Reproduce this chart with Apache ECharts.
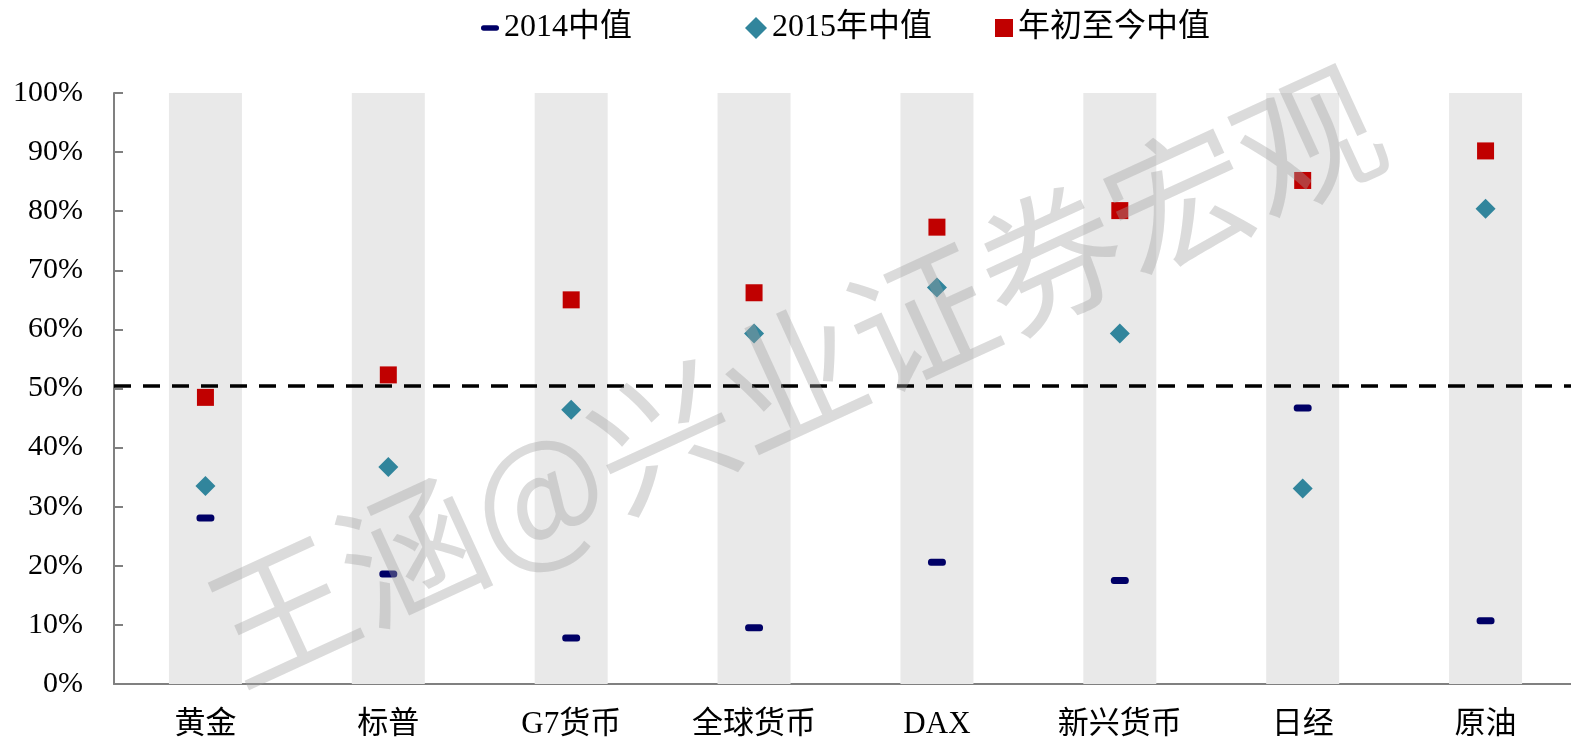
<!DOCTYPE html>
<html>
<head>
<meta charset="utf-8">
<script src="https://cdn.jsdelivr.net/npm/echarts@6/dist/echarts.min.js"></script>
<style>
  html, body { margin: 0; padding: 0; background: #fff; overflow: hidden; }
  #main { width: 1577px; height: 742px; }
</style>
</head>
<body>
<div id="main"></div>
<script>
var categories = ['黄金', '标普', 'G7货币', '全球货币', 'DAX', '新兴货币', '日经', '原油']
var median2014 = [28.1, 18.6, 7.8, 9.5, 20.6, 17.5, 46.7, 10.7]
var median2015 = [33.5, 36.7, 46.4, 59.3, 67.1, 59.3, 33.1, 80.4]
var medianYtd = [48.5, 52.3, 65.0, 66.2, 77.3, 80.1, 85.2, 90.2]
var background = [100, 100, 100, 100, 100, 100, 100, 100]
var refLine = 50.5
var yTicks = { min: 0, max: 100, interval: 10 }

var font = '"Liberation Serif", "Noto Sans CJK SC", serif'
var legendText = { fontSize: 32, color: '#000', fontFamily: font }

function legendItem(name, icon, left, size) {
  return {
    top: 7,
    left: left,
    itemWidth: size,
    itemHeight: size,
    itemGap: 8,
    textStyle: legendText,
    data: [{ name: name, icon: icon }],
  }
}

var chartDom = document.getElementById('main')
var myChart = echarts.init(chartDom)
var option = {
  animation: false,
  textStyle: { fontFamily: font },
  legend: [
    legendItem('2014中值', 'path://M2,6 L16,6 A2,2 0 0 1 16,12 L2,12 A2,2 0 0 1 2,6 Z', 476, 18),
    legendItem('2015年中值', 'diamond', 740, 22),
    legendItem('年初至今中值', 'rect', 990, 18),
  ],
  grid: {
    left: 114,
    right: 0,
    top: 93,
    bottom: 58,
    outerBoundsMode: 'none',
  },
  xAxis: {
    type: 'category',
    data: categories,
    boundaryGap: true,
    axisLine: { lineStyle: { color: '#808080', width: 2 } },
    axisTick: { inside: true, length: 8, lineStyle: { color: '#808080', width: 2 } },
    axisLabel: { fontSize: 31, color: '#000', margin: 25, fontFamily: font },
  },
  yAxis: {
    type: 'value',
    min: yTicks.min,
    max: yTicks.max,
    interval: yTicks.interval,
    splitLine: { show: false },
    axisLine: { show: true, lineStyle: { color: '#808080', width: 2 } },
    axisTick: { show: true, inside: true, length: 9, lineStyle: { color: '#808080', width: 2 } },
    axisLabel: { formatter: '{value}%', fontSize: 30, color: '#000', margin: 31, fontFamily: font },
  },
  series: [
    {
      name: 'bg',
      type: 'bar',
      data: background,
      barWidth: 73,
      silent: true,
      itemStyle: { color: '#e9e9e9' },
      z: 1,
      markLine: {
        silent: true,
        symbol: 'none',
        label: { show: false },
        lineStyle: { color: '#000', width: 3.5, type: [17, 12] },
        data: [{ yAxis: refLine }],
      },
    },
    {
      name: '2014中值',
      type: 'scatter',
      data: median2014,
      symbol: 'path://M3,0 L15,0 A3,3 0 0 1 15,6 L3,6 A3,3 0 0 1 3,0 Z',
      symbolSize: [18, 7],
      itemStyle: { color: '#000066', opacity: 1 },
      z: 5,
    },
    {
      name: '2015年中值',
      type: 'scatter',
      data: median2015,
      symbol: 'diamond',
      symbolSize: [20, 20],
      itemStyle: { color: '#31859c', opacity: 1 },
      z: 5,
    },
    {
      name: '年初至今中值',
      type: 'scatter',
      data: medianYtd,
      symbol: 'rect',
      symbolSize: [17, 17],
      itemStyle: { color: '#c00000', opacity: 1 },
      z: 5,
    },
  ],
  graphic: [
    {
      type: 'text',
      x: 795,
      y: 375,
      rotation: 0.43,
      silent: true,
      z: 100,
      style: {
        text: '王涵@兴业证券宏观',
        font: 'normal 142px "Noto Sans CJK SC", serif',
        fill: 'rgba(160,160,160,0.38)',
        align: 'center',
        verticalAlign: 'middle',
      },
    },
  ],
}
option && myChart.setOption(option)
</script>
</body>
</html>
